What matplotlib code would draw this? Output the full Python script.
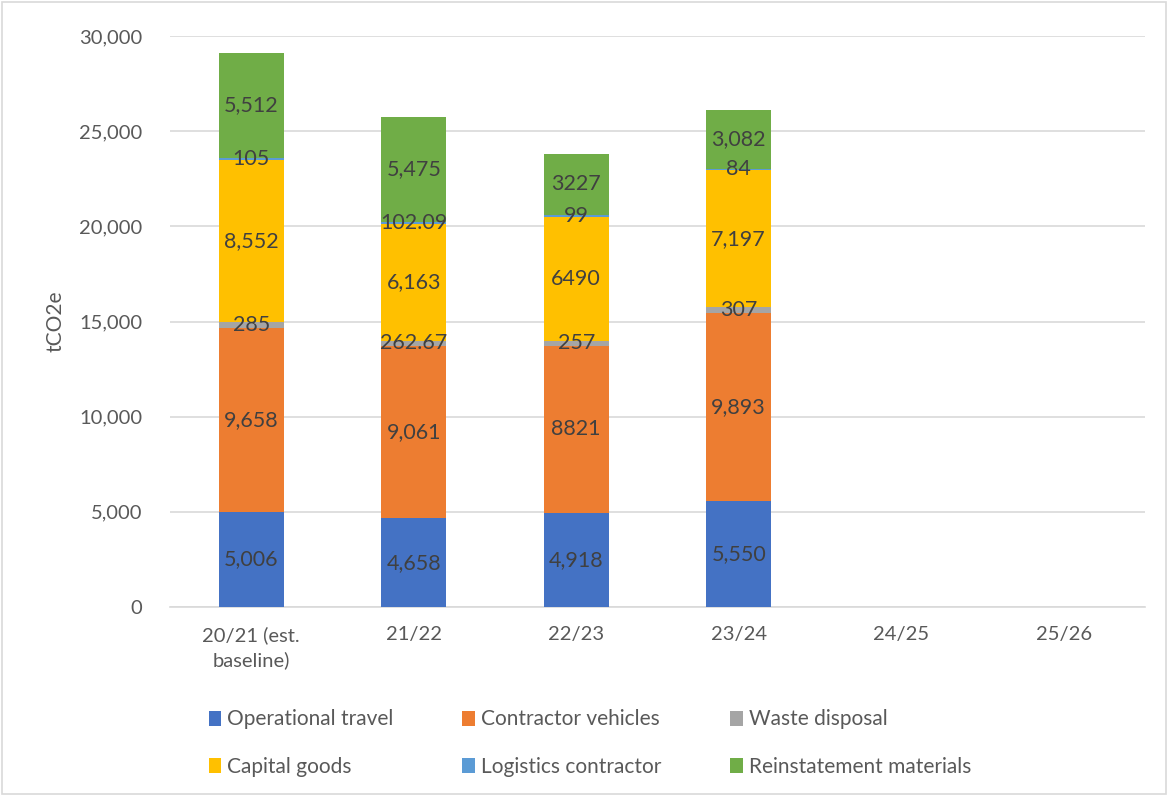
import matplotlib

matplotlib.use("Agg")
import matplotlib.pyplot as plt
import numpy as np
from matplotlib.patches import Patch, Rectangle

plt.rcParams["font.family"] = ["Lato", "DejaVu Sans"]

categories = ["20/21 (est.\nbaseline)", "21/22", "22/23", "23/24", "24/25", "25/26"]
series_names = [
    "Operational travel",
    "Contractor vehicles",
    "Waste disposal",
    "Capital goods",
    "Logistics contractor",
    "Reinstatement materials",
]
operational_travel = [5006, 4658, 4918, 5550, 0, 0]
contractor_vehicles = [9658, 9061, 8821, 9893, 0, 0]
waste_disposal = [285, 262.67, 257, 307, 0, 0]
capital_goods = [8552, 6163, 6490, 7197, 0, 0]
logistics_contractor = [105, 102.09, 99, 84, 0, 0]
reinstatement_materials = [5512, 5475, 3227, 3082, 0, 0]

# label text as printed on the chart
operational_labels = ["5,006", "4,658", "4,918", "5,550"]
contractor_labels = ["9,658", "9,061", "8821", "9,893"]
waste_labels = ["285", "262.67", "257", "307"]
capital_labels = ["8,552", "6,163", "6490", "7,197"]
logistics_labels = ["105", "102.09", "99", "84"]
reinstatement_labels = ["5,512", "5,475", "3227", "3,082"]

colors = ["#4472C4", "#ED7D31", "#A5A5A5", "#FFC000", "#5B9BD5", "#70AD47"]

values = [operational_travel, contractor_vehicles, waste_disposal,
          capital_goods, logistics_contractor, reinstatement_materials]
labels = [operational_labels, contractor_labels, waste_labels,
          capital_labels, logistics_labels, reinstatement_labels]

fig = plt.figure(figsize=(11.68, 7.96), dpi=100)
fig.patches.append(Rectangle((0.002, 0.002), 0.996, 0.996, transform=fig.transFigure,
                             fill=False, edgecolor="#D9D9D9", linewidth=1.2))
ax = fig.add_axes([170 / 1168, 1 - 607 / 796, (1145 - 170) / 1168, (607 - 36) / 796])

x = np.arange(len(categories))
bottom = np.zeros(len(categories))
for vals, labs, col in zip(values, labels, colors):
    vals = np.asarray(vals, dtype=float)
    ax.bar(x, vals, 0.4, bottom=bottom, color=col, linewidth=0, zorder=3)
    for i, lab in enumerate(labs):
        ax.text(x[i], bottom[i] + vals[i] / 2, lab, ha="center", va="center",
                fontsize=15.5, color="#404040", zorder=4)
    bottom += vals

ax.set_xlim(-0.5, len(categories) - 0.5)
ax.set_ylim(0, 30000)
ax.set_yticks(np.arange(0, 30001, 5000))
ax.yaxis.set_major_formatter(matplotlib.ticker.FuncFormatter(lambda v, p: f"{int(v):,}"))
ax.set_xticks(x)
ax.set_xticklabels(categories, multialignment="center", linespacing=1.45)
ax.tick_params(axis="both", length=0, labelsize=14.5, colors="#595959")
ax.tick_params(axis="y", pad=20)
ax.tick_params(axis="x", pad=14)
ax.grid(axis="y", color="#D9D9D9", linewidth=1.2, zorder=0)
for side in ["top", "right", "left"]:
    ax.spines[side].set_visible(False)
ax.spines["bottom"].set_color("#D9D9D9")
ax.spines["bottom"].set_linewidth(1.2)
ax.set_ylabel("tCO2e", fontsize=15, color="#595959", labelpad=10)

# legend fills column-wise; reorder so rows read like the original
order = [0, 3, 1, 4, 2, 5]
handles = [Patch(facecolor=colors[i], label=series_names[i]) for i in order]
fig.legend(handles=handles, ncol=3, loc="center", bbox_to_anchor=(590 / 1168, 1 - 743 / 796),
           frameon=False, fontsize=15, labelcolor="#595959", handlelength=0.6,
           handleheight=0.75, handletextpad=0.3, columnspacing=3.3, labelspacing=1.3)

fig.savefig("out.png", dpi=100)
